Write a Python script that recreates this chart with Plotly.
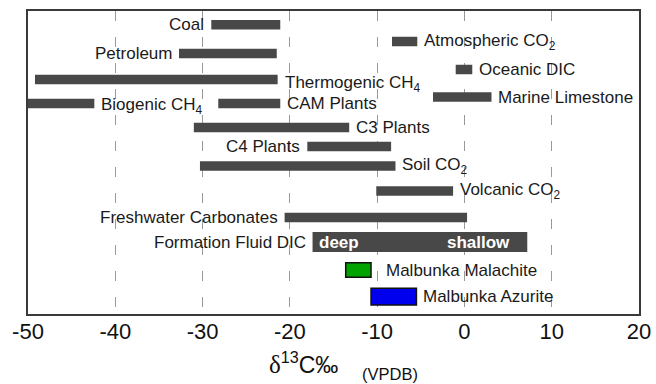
import plotly.graph_objects as go

# ---- data (δ13C ranges, ‰ VPDB) ----
names = ["Coal", "Atmospheric CO<sub>2</sub>", "Petroleum", "Oceanic DIC",
         "Thermogenic CH<sub>4</sub>", "Marine Limestone", "Biogenic CH<sub>4</sub>",
         "CAM Plants", "C3 Plants", "C4 Plants", "Soil CO<sub>2</sub>",
         "Volcanic CO<sub>2</sub>", "Freshwater Carbonates", "Formation Fluid DIC",
         "Malbunka Malachite", "Malbunka Azurite"]
lo = [-29.0, -8.3, -32.7, -1.0, -49.2, -3.6, -50.0, -28.2, -31.0, -18.0, -30.3,
      -10.1, -20.6, -17.4, -13.6, -10.7]
hi = [-21.1, -5.4, -21.5, 0.9, -21.4, 3.1, -42.4, -21.1, -13.2, -8.4, -7.9,
      -1.3, 0.3, 7.2, -10.7, -5.5]
label_side = ["left", "right", "left", "right", "right", "right", "right", "right",
              "right", "left", "right", "right", "left", "left", "right", "right"]
x_ticks = [-50, -40, -30, -20, -10, 0, 10, 20]
x_ticklabels = ["-50", "-40", "-30", "-20", "-10", "0", "10", "20"]

# ---- layout of rows (vertical position / thickness, in axis units) ----
row_y = [13.8, 30.5, 42.5, 58.5, 68.5, 86, 92.5, 92.5, 116.5, 135.5, 155, 180,
         206.5, 231, 259, 285.7]
row_h = [9.5] * 13 + [20, 14.7, 16.7]
colors = ["#484848"] * 14 + ["#00a300", "#0000ee"]
edge_w = [0] * 14 + [1.5, 1.5]
label_dy = [0, 0, 0, 0, -4, 0, -2, 0, 0, 0, 0, 0, 0, 0, 0, 0]

FONT = "Liberation Sans, Arial, Helvetica, sans-serif"
L, R, T, B = 28, 17, 11, 70
PW = 656 - L - R

fig = go.Figure()
fig.add_trace(go.Bar(
    orientation="h",
    y=row_y,
    x=[h - l for l, h in zip(lo, hi)],
    base=lo,
    width=row_h,
    marker=dict(color=colors, line=dict(color="#111111", width=edge_w)),
    hoverinfo="skip",
    showlegend=False,
))

anns = []
for i, n in enumerate(names):
    if label_side[i] == "left":
        anns.append(dict(x=lo[i], y=row_y[i], text=n, xanchor="right", xshift=-5,
                         yshift=label_dy[i], showarrow=False, yanchor="middle",
                         font=dict(family=FONT, size=17, color="#1a1a1a")))
    else:
        anns.append(dict(x=hi[i], y=row_y[i], text=n, xanchor="left",
                         xshift=13 if i == 14 else 5,
                         yshift=label_dy[i], showarrow=False, yanchor="middle",
                         font=dict(family=FONT, size=17, color="#1a1a1a")))

fi = 13
anns.append(dict(x=lo[fi], y=row_y[fi], text="<b>deep</b>", xanchor="left", xshift=4,
                 showarrow=False, font=dict(family=FONT, size=17, color="white")))
anns.append(dict(x=hi[fi], y=row_y[fi], text="<b>shallow</b>", xanchor="right", xshift=-15,
                 showarrow=False, font=dict(family=FONT, size=17, color="white")))

# axis title: δ13C‰ (VPDB)
anns.append(dict(
    xref="paper", yref="paper", x=(267 - L) / PW, y=0, xanchor="left", yanchor="middle",
    yshift=-49, showarrow=False,
    text="<span style='font-family:Liberation Serif, Times New Roman, serif;font-size:25px'>δ</span>"
         "<sup style='font-size:15px'>13</sup>C‰",
    font=dict(family=FONT, size=23, color="#111111"),
))
anns.append(dict(
    xref="paper", yref="paper", x=(360 - L) / PW, y=0, xanchor="left", yanchor="middle",
    yshift=-60, showarrow=False, text="(VPDB)",
    font=dict(family=FONT, size=16.5, color="#111111"),
))

fig.update_layout(
    width=656, height=384,
    margin=dict(l=L, r=R, t=T, b=B, autoexpand=False),
    plot_bgcolor="white", paper_bgcolor="white",
    annotations=anns,
    font=dict(family=FONT, color="#111111"),
    xaxis=dict(
        range=[-50, 20], tickvals=x_ticks, ticktext=x_ticklabels,
        tickfont=dict(family=FONT, size=22, color="#111111"),
        showgrid=True, gridcolor="#9a9a9a", gridwidth=1.2, griddash="10px,16px",
        showline=True, linecolor="#3a3a3a", linewidth=2, mirror=True,
        ticks="", zeroline=False, automargin=False, ticklabelstandoff=-3,
    ),
    yaxis=dict(
        range=[303, 0], showticklabels=False, showgrid=False, zeroline=False,
        showline=True, linecolor="#3a3a3a", linewidth=2, mirror=True, ticks="",
        automargin=False,
    ),
)

fig.write_html("out.html")
